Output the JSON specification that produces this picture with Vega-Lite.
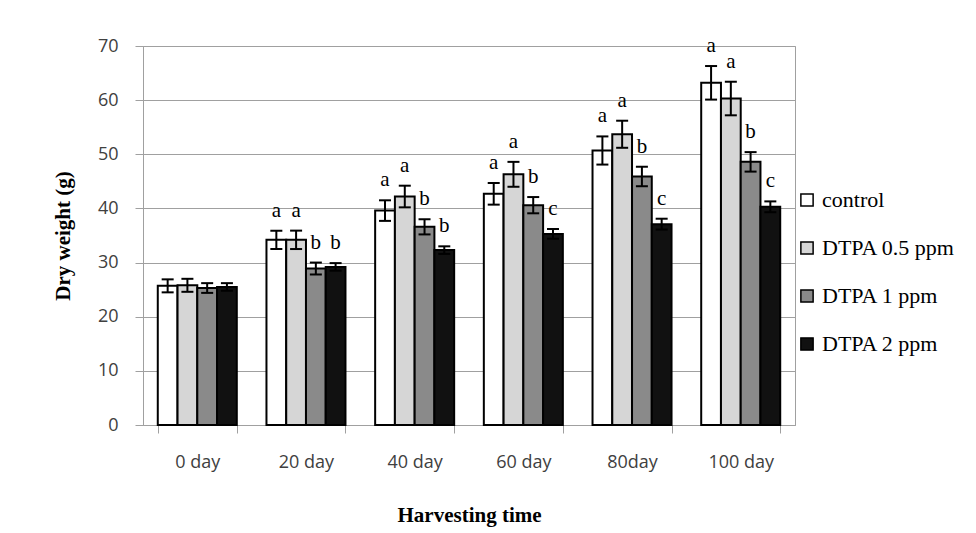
{
  "$schema": "https://vega.github.io/schema/vega-lite/v6.json",
  "width": 652,
  "height": 379,
  "autosize": {"type": "none"},
  "padding": {"left": 143, "top": 46, "right": 181, "bottom": 108},
  "background": "white",
  "config": {
    "view": {"stroke": "#a0a0a0", "strokeWidth": 1}
  },
  "data": {
    "values": [
      {"day": "0 day", "treatment": "control", "mean": 25.7, "lo": 24.5, "hi": 26.9, "letter": ""},
      {"day": "0 day", "treatment": "DTPA 0.5 ppm", "mean": 25.8, "lo": 24.6, "hi": 27.0, "letter": ""},
      {"day": "0 day", "treatment": "DTPA 1 ppm", "mean": 25.3, "lo": 24.4, "hi": 26.2, "letter": ""},
      {"day": "0 day", "treatment": "DTPA 2 ppm", "mean": 25.5, "lo": 24.8, "hi": 26.2, "letter": ""},
      {"day": "20 day", "treatment": "control", "mean": 34.2, "lo": 32.5, "hi": 35.9, "letter": "a"},
      {"day": "20 day", "treatment": "DTPA 0.5 ppm", "mean": 34.2, "lo": 32.5, "hi": 35.9, "letter": "a"},
      {"day": "20 day", "treatment": "DTPA 1 ppm", "mean": 28.9, "lo": 27.8, "hi": 30.0, "letter": "b"},
      {"day": "20 day", "treatment": "DTPA 2 ppm", "mean": 29.2, "lo": 28.5, "hi": 29.9, "letter": "b"},
      {"day": "40 day", "treatment": "control", "mean": 39.6, "lo": 37.7, "hi": 41.5, "letter": "a"},
      {"day": "40 day", "treatment": "DTPA 0.5 ppm", "mean": 42.2, "lo": 40.2, "hi": 44.2, "letter": "a"},
      {"day": "40 day", "treatment": "DTPA 1 ppm", "mean": 36.6, "lo": 35.2, "hi": 38.0, "letter": "b"},
      {"day": "40 day", "treatment": "DTPA 2 ppm", "mean": 32.3, "lo": 31.6, "hi": 33.0, "letter": "b"},
      {"day": "60 day", "treatment": "control", "mean": 42.7, "lo": 40.7, "hi": 44.7, "letter": "a"},
      {"day": "60 day", "treatment": "DTPA 0.5 ppm", "mean": 46.3, "lo": 44.0, "hi": 48.6, "letter": "a"},
      {"day": "60 day", "treatment": "DTPA 1 ppm", "mean": 40.6, "lo": 39.1, "hi": 42.1, "letter": "b"},
      {"day": "60 day", "treatment": "DTPA 2 ppm", "mean": 35.3, "lo": 34.4, "hi": 36.2, "letter": "c"},
      {"day": "80day", "treatment": "control", "mean": 50.7, "lo": 48.1, "hi": 53.3, "letter": "a"},
      {"day": "80day", "treatment": "DTPA 0.5 ppm", "mean": 53.7, "lo": 51.2, "hi": 56.2, "letter": "a"},
      {"day": "80day", "treatment": "DTPA 1 ppm", "mean": 45.9, "lo": 44.1, "hi": 47.7, "letter": "b"},
      {"day": "80day", "treatment": "DTPA 2 ppm", "mean": 37.1, "lo": 36.1, "hi": 38.1, "letter": "c"},
      {"day": "100 day", "treatment": "control", "mean": 63.2, "lo": 60.1, "hi": 66.3, "letter": "a"},
      {"day": "100 day", "treatment": "DTPA 0.5 ppm", "mean": 60.3, "lo": 57.2, "hi": 63.4, "letter": "a"},
      {"day": "100 day", "treatment": "DTPA 1 ppm", "mean": 48.6, "lo": 46.8, "hi": 50.4, "letter": "b"},
      {"day": "100 day", "treatment": "DTPA 2 ppm", "mean": 40.3, "lo": 39.3, "hi": 41.3, "letter": "c"}
    ]
  },
  "encoding": {
    "x": {
      "field": "day",
      "type": "nominal",
      "sort": ["0 day", "20 day", "40 day", "60 day", "80day", "100 day"],
      "scale": {"paddingInner": 0.273, "paddingOuter": 0.136},
      "axis": {
        "title": "Harvesting time",
        "labelAngle": 0,
        "tickBand": "extent",
        "tickSize": 8,
        "tickColor": "#a0a0a0",
        "domainColor": "#a0a0a0",
        "labelFont": "Open Sans",
        "labelFontSize": 18,
        "labelColor": "#404040",
        "labelPadding": 20,
        "titleFont": "Liberation Serif",
        "titleFontSize": 21,
        "titleFontWeight": "bold",
        "titleColor": "black",
        "titlePadding": 33,
        "grid": false
      }
    },
    "xOffset": {
      "field": "treatment",
      "type": "nominal",
      "sort": ["control", "DTPA 0.5 ppm", "DTPA 1 ppm", "DTPA 2 ppm"],
      "scale": {"paddingInner": 0, "paddingOuter": 0}
    }
  },
  "layer": [
    {
      "mark": {"type": "bar", "stroke": "black", "strokeWidth": 2, "opacity": 1},
      "encoding": {
        "y": {
          "field": "mean",
          "type": "quantitative",
          "scale": {"domain": [0, 70]},
          "axis": {
            "title": "Dry weight (g)",
            "values": [0, 10, 20, 30, 40, 50, 60, 70],
            "grid": true,
            "gridColor": "#a0a0a0",
            "domainColor": "#a0a0a0",
            "tickColor": "#a0a0a0",
            "tickSize": 8,
            "labelPadding": 17,
            "labelFont": "Open Sans",
            "labelFontSize": 18,
            "labelColor": "#404040",
            "titleFont": "Liberation Serif",
            "titleFontSize": 21,
            "titleFontWeight": "bold",
            "titleColor": "black",
            "titlePadding": 24
          }
        },
        "color": {
          "field": "treatment",
          "type": "nominal",
          "sort": ["control", "DTPA 0.5 ppm", "DTPA 1 ppm", "DTPA 2 ppm"],
          "scale": {
            "domain": ["control", "DTPA 0.5 ppm", "DTPA 1 ppm", "DTPA 2 ppm"],
            "range": ["#ffffff", "#d6d6d6", "#8a8a8a", "#111111"]
          },
          "legend": {
            "title": null,
            "orient": "none",
            "legendX": 653,
            "legendY": 143,
            "padding": 0,
            "symbolType": "square",
            "symbolSize": 150,
            "symbolStrokeColor": "black",
            "symbolStrokeWidth": 1.5,
            "symbolOpacity": 1,
            "labelFont": "Liberation Serif",
            "labelFontSize": 22,
            "labelColor": "black",
            "labelOffset": 4,
            "rowPadding": 26,
            "labelLimit": 300
          }
        }
      }
    },
    {
      "mark": {"type": "rule", "color": "black", "strokeWidth": 2},
      "encoding": {
        "y": {"field": "lo", "type": "quantitative"},
        "y2": {"field": "hi"}
      }
    },
    {
      "mark": {"type": "tick", "color": "black", "thickness": 2, "size": 12, "opacity": 1},
      "encoding": {
        "y": {"field": "lo", "type": "quantitative"}
      }
    },
    {
      "mark": {"type": "tick", "color": "black", "thickness": 2, "size": 12, "opacity": 1},
      "encoding": {
        "y": {"field": "hi", "type": "quantitative"}
      }
    },
    {
      "mark": {"type": "text", "font": "Liberation Serif", "fontSize": 21, "color": "black", "baseline": "bottom", "dy": -10},
      "encoding": {
        "y": {"field": "hi", "type": "quantitative"},
        "text": {"field": "letter"}
      }
    }
  ]
}
